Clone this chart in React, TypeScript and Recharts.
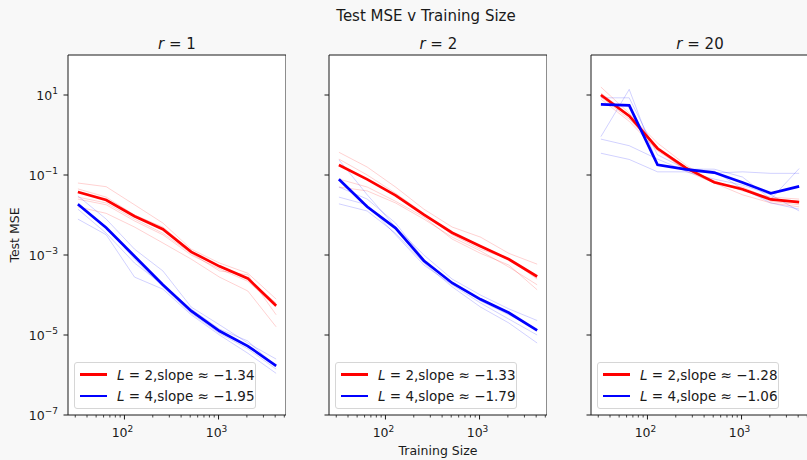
import React from 'react';
import { LineChart, Line, XAxis, YAxis, CartesianGrid, ReferenceLine, Legend } from 'recharts';

// ---------- data ----------
const trainingSizes = [32, 64, 128, 256, 512, 1024, 2048, 4096];
const xMajorTicks = [100, 1000];
const xMinorTicks = [30, 40, 50, 60, 70, 80, 90, 200, 300, 400, 500, 600, 700, 800, 900, 2000, 3000, 4000, 5000];
const yTicks = [1e1, 1e-1, 1e-3, 1e-5, 1e-7];
const xDomain = [25.12, 5212];
const yDomain = [1e-7, 1e2];

const rValues = ['1', '2', '20'];
const legendDepths = [2, 4];
const slopesL2 = ['−1.34', '−1.33', '−1.28'];
const slopesL4 = ['−1.95', '−1.79', '−1.06'];

// r = 1
const r1MeanL2 = [3.76e-2, 2.37e-2, 9.3e-3, 4.4e-3, 1.2e-3, 5.2e-4, 2.6e-4, 5.4e-5];
const r1MeanL4 = [1.86e-2, 4.8e-3, 9.3e-4, 1.8e-4, 4e-5, 1.26e-5, 5.3e-6, 1.7e-6];
const r1SeedsL2 = [
  [6.3e-2, 5.1e-2, 1.8e-2, 6.3e-3, 1.4e-3, 6.3e-4, 3.5e-4, 7.9e-5],
  [4.5e-2, 2.8e-2, 1e-2, 5e-3, 1.26e-3, 5e-4, 2.5e-4, 6.3e-5],
  [2.5e-2, 1.8e-2, 7.1e-3, 3.2e-3, 1e-3, 4.5e-4, 2.2e-4, 5e-5],
  [1.6e-2, 1.1e-2, 5e-3, 2e-3, 7.9e-4, 2.8e-4, 1.26e-4, 1.6e-5],
  [2.8e-2, 2e-2, 7.9e-3, 3.5e-3, 1.1e-3, 4e-4, 3.2e-4, 3.2e-5],
];
const r1SeedsL4 = [
  [3e-2, 7.9e-3, 1.4e-3, 4e-4, 5e-5, 1.8e-5, 6.3e-6, 2.5e-6],
  [2e-2, 5e-3, 7.9e-4, 1.6e-4, 3.5e-5, 1.1e-5, 4.5e-6, 1.4e-6],
  [7.9e-3, 3.2e-3, 2.8e-4, 1.4e-4, 3.2e-5, 1e-5, 3.5e-6, 1.1e-6],
  [1.4e-2, 3.5e-3, 6.3e-4, 1.8e-4, 4.5e-5, 1.4e-5, 7.1e-6, 1.6e-6],
];

// r = 2
const r2MeanL2 = [0.178, 7.8e-2, 3.1e-2, 1.02e-2, 3.6e-3, 1.66e-3, 7.8e-4, 2.9e-4];
const r2MeanL4 = [7.8e-2, 1.6e-2, 4.7e-3, 7.2e-4, 2e-4, 7.8e-5, 3.6e-5, 1.3e-5];
const r2SeedsL2 = [
  [0.37, 0.158, 5e-2, 1.4e-2, 5e-3, 2.8e-3, 1.1e-3, 5.9e-4],
  [0.25, 0.1, 3.5e-2, 1.1e-2, 3.2e-3, 1.4e-3, 7.9e-4, 2.5e-4],
  [5e-2, 4e-2, 2e-2, 7.9e-3, 2.8e-3, 1.26e-3, 5e-4, 1.8e-4],
  [7.9e-2, 5e-2, 2.2e-2, 8.9e-3, 2.5e-3, 1.1e-3, 5.6e-4, 1.35e-4],
];
const r2SeedsL4 = [
  [0.24, 3.2e-2, 5e-3, 1e-3, 2.5e-4, 1e-4, 4.5e-5, 2.3e-5],
  [5e-2, 2.5e-2, 6.3e-3, 7.9e-4, 2e-4, 7.1e-5, 3.2e-5, 1.4e-5],
  [2.8e-2, 1.8e-2, 3.2e-3, 5.6e-4, 1.8e-4, 6.3e-5, 2.5e-5, 1e-5],
  [1.9e-2, 1.26e-2, 3.5e-3, 6.3e-4, 1.6e-4, 5e-5, 2e-5, 6.3e-6],
];

// r = 20
const r20MeanL2 = [10, 3.0, 0.46, 0.15, 6.6e-2, 4.4e-2, 2.45e-2, 2.1e-2];
const r20MeanL4 = [5.8, 5.5, 0.18, 0.138, 0.115, 6.5e-2, 3.5e-2, 5.2e-2];
const r20SeedsL2 = [
  [15.8, 3.5, 0.5, 0.158, 6.3e-2, 4.5e-2, 2.2e-2, 1.8e-2],
  [7.9, 2.2, 0.4, 0.14, 7.1e-2, 4e-2, 2.8e-2, 2.5e-2],
  [11.2, 3.2, 0.63, 0.178, 6.3e-2, 3.2e-2, 2e-2, 1.6e-2],
  [8.9, 2.5, 0.45, 0.126, 6.3e-2, 5e-2, 2.5e-2, 2.2e-2],
];
const r20SeedsL4 = [
  [0.91, 13.8, 0.186, 0.14, 0.126, 4.5e-2, 2e-2, 1.4e-2],
  [8.5, 8.5, 0.32, 0.14, 0.14, 8.9e-2, 2.5e-2, 0.145],
  [0.79, 0.54, 0.25, 0.126, 0.112, 0.12, 0.11, 0.11],
  [0.35, 0.245, 0.12, 0.12, 7.9e-2, 5.6e-2, 3.2e-2, 1.26e-2],
];

const panels = [
  { meanL2: r1MeanL2, meanL4: r1MeanL4, seedsL2: r1SeedsL2, seedsL4: r1SeedsL4 },
  { meanL2: r2MeanL2, meanL4: r2MeanL4, seedsL2: r2SeedsL2, seedsL4: r2SeedsL4 },
  { meanL2: r20MeanL2, meanL4: r20MeanL4, seedsL2: r20SeedsL2, seedsL4: r20SeedsL4 },
];

// ---------- styling ----------
const FONT = '"DejaVu Sans", Verdana, sans-serif';
const INK = '#1a1a1a';
const RED = '#ff0000';
const BLUE = '#0000ff';
const PANEL_LEFTS = [0, 261, 523];
const CHART_W = 286;
const CHART_H = 460;
const Y_AXIS_W = 68;

function buildRows(p: any) {
  return trainingSizes.map((n, i) => {
    const row: any = { n, meanL2: p.meanL2[i], meanL4: p.meanL4[i] };
    p.seedsL2.forEach((s: number[], k: number) => (row['l2s' + k] = s[i]));
    p.seedsL4.forEach((s: number[], k: number) => (row['l4s' + k] = s[i]));
    return row;
  });
}

function expLabel(v: number) {
  return String(Math.round(Math.log10(v))).replace('-', '−');
}

const XTick = (props: any) => {
  const { x, y, payload } = props;
  const v = payload.value;
  const major = xMajorTicks.includes(v);
  return (
    <g>
      <line x1={x} x2={x} y1={y} y2={y + (major ? 4.5 : 2.5)} stroke={INK} strokeWidth={major ? 1 : 0.8} />
      {major && (
        <text x={x - 2} y={y + 22} textAnchor="middle" fontSize={12.5} fill={INK} fontFamily={FONT}>
          10<tspan dy={-5.5} fontSize={9}>{expLabel(v)}</tspan>
        </text>
      )}
    </g>
  );
};

const makeYTick = (showLabel: boolean) => (props: any) => {
  const { x, y, payload } = props;
  const v = payload.value;
  return (
    <g>
      <line x1={x - 4.5} x2={x} y1={y} y2={y} stroke={INK} strokeWidth={1} />
      {showLabel && (
        <text x={x - 10} y={y + 4.5} textAnchor="end" fontSize={12.5} fill={INK} fontFamily={FONT}>
          10<tspan dy={-5.5} fontSize={9}>{expLabel(v)}</tspan>
        </text>
      )}
    </g>
  );
};

const makeLegend = (panelIdx: number) => (props: any) => {
  const items = (props.payload || []).filter((p: any) => p.type !== 'none');
  const slopes = [slopesL2[panelIdx], slopesL4[panelIdx]];
  return (
    <div
      style={{
        position: 'relative',
        width: 182,
        height: 47,
        boxSizing: 'border-box',
        border: '1px solid #d6d6d6',
        borderRadius: 3,
        background: 'rgba(255,255,255,0.85)',
        fontFamily: FONT,
        fontSize: 13.5,
        color: INK,
      }}
    >
      {items.map((it: any, i: number) => (
        <div
          key={i}
          style={{
            position: 'absolute',
            left: 5,
            top: i === 0 ? 0.5 : 22,
            height: 22,
            display: 'flex',
            alignItems: 'center',
            whiteSpace: 'nowrap',
          }}
        >
          <span style={{ display: 'inline-block', width: 27, height: 2.7, background: it.color, marginRight: 10 }} />
          <span>
            <i>L</i> = {legendDepths[i]},slope ≈ {slopes[i]}
          </span>
        </div>
      ))}
    </div>
  );
};

function Panel({ idx }: { idx: number }) {
  const p = panels[idx];
  const rows = buildRows(p);
  return (
    <div style={{ position: 'absolute', left: PANEL_LEFTS[idx], top: 0 }}>
      <LineChart width={CHART_W} height={CHART_H} data={rows} margin={{ top: 55, right: 0, bottom: 15, left: 0 }}>
        <CartesianGrid horizontal={false} vertical={false} fill="#ffffff" />
        <XAxis
          dataKey="n"
          type="number"
          scale="log"
          domain={xDomain}
          allowDataOverflow
          ticks={[...xMinorTicks, ...xMajorTicks]}
          interval={0}
          tickSize={0}
          tickMargin={0}
          tickLine={false}
          tick={<XTick />}
          height={30}
          axisLine={{ stroke: INK, strokeWidth: 1 }}
        />
        <YAxis
          type="number"
          scale="log"
          domain={yDomain}
          allowDataOverflow
          ticks={yTicks}
          interval={0}
          tickSize={0}
          tickMargin={0}
          tickLine={false}
          tick={makeYTick(idx === 0)}
          width={Y_AXIS_W}
          axisLine={{ stroke: INK, strokeWidth: 1 }}
        />
        <ReferenceLine y={yDomain[1]} stroke={INK} strokeWidth={1} />
        <ReferenceLine x={xDomain[1]} stroke={INK} strokeWidth={1} />
        {p.seedsL2.map((_: any, k: number) => (
          <Line
            key={'l2s' + k}
            dataKey={'l2s' + k}
            stroke={RED}
            strokeOpacity={0.18}
            strokeWidth={1}
            dot={false}
            legendType="none"
            isAnimationActive={false}
            type="linear"
          />
        ))}
        {p.seedsL4.map((_: any, k: number) => (
          <Line
            key={'l4s' + k}
            dataKey={'l4s' + k}
            stroke={BLUE}
            strokeOpacity={0.18}
            strokeWidth={1}
            dot={false}
            legendType="none"
            isAnimationActive={false}
            type="linear"
          />
        ))}
        <Line dataKey="meanL2" name="L=2" stroke={RED} strokeWidth={2.7} dot={false} isAnimationActive={false} type="linear" legendType="line" />
        <Line dataKey="meanL4" name="L=4" stroke={BLUE} strokeWidth={2.7} dot={false} isAnimationActive={false} type="linear" legendType="line" />
        <Legend
          layout="horizontal"
          verticalAlign="middle"
          align="center"
          content={makeLegend(idx)}
          wrapperStyle={{ left: 74, top: 362, width: 182, height: 47 }}
        />
      </LineChart>
    </div>
  );
}

export default function App() {
  const centers = [177, 438.3, 700];
  return (
    <div
      style={{
        position: 'absolute',
        left: 0,
        top: 0,
        width: 807,
        height: 460,
        overflow: 'hidden',
        background: '#f8f8f8',
      }}
    >
      {[0, 1, 2].map((i) => (
        <Panel key={i} idx={i} />
      ))}
      <svg width={807} height={460} style={{ position: 'absolute', left: 0, top: 0, pointerEvents: 'none' }}>
        <text x={426} y={20.5} textAnchor="middle" fontSize={15} fill={INK} fontFamily={FONT}>
          Test MSE v Training Size
        </text>
        {rValues.map((r, i) => (
          <text key={i} x={centers[i]} y={48.5} textAnchor="middle" fontSize={15} fill={INK} fontFamily={FONT}>
            <tspan fontStyle="italic">r</tspan> = {r}
          </text>
        ))}
        <text x={19} y={235} transform="rotate(-90 19 235)" textAnchor="middle" fontSize={12.5} fill={INK} fontFamily={FONT}>
          Test MSE
        </text>
        <text x={438} y={455} textAnchor="middle" fontSize={12.5} fill={INK} fontFamily={FONT}>
          Training Size
        </text>
      </svg>
    </div>
  );
}
